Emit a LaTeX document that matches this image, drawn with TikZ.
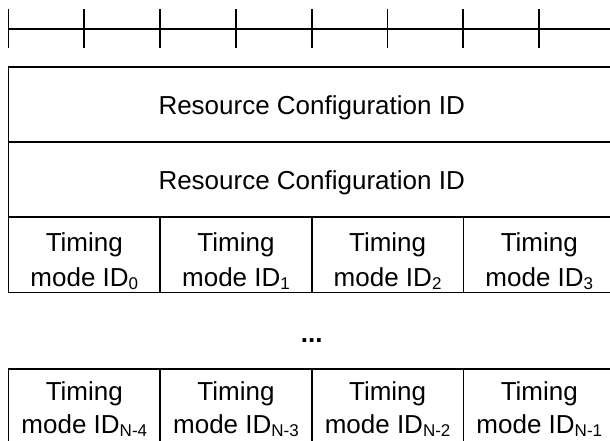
\documentclass[tikz,border=0pt]{standalone}
\usepackage{fontspec}
\setmainfont{Liberation Sans}
\newcommand\idsub[1]{\raisebox{-3.5pt}{\fontsize{17}{17}\selectfont #1}}
\begin{document}
\begin{tikzpicture}[x=1pt,y=-1pt,
  ruler/.style={line width=1.8pt, black},
  wide/.style={draw, line width=1.8pt, minimum width=606.4pt, minimum height=75pt, inner sep=0pt, outer sep=0pt,
    font=\fontsize{26}{30}\selectfont, text height=18.6pt, text depth=0pt},
  cell/.style={draw, line width=1.8pt, minimum width=151.6pt, minimum height=75pt, inner sep=0pt, outer sep=0pt},
  txt/.style={font=\fontsize{26}{30}\selectfont, inner sep=0pt, anchor=base}]
\useasboundingbox (0,0) rectangle (610,441);
\clip (0,0) rectangle (610,441);
% ruler
\draw[ruler] (8.5,29) -- (614.9,29);
\foreach \k in {0,...,8}{
  \draw[ruler] ({8.5+75.8*\k},9.3) -- ({8.5+75.8*\k},48.3);
}
% wide rows
\node[wide] (r1) at (311.7,104.8) {Resource Configuration ID};
\node[wide] (r2) at (311.7,179.8) {Resource Configuration ID};
% first timing row
\foreach \i/\s/\x in {0/0/84.3, 1/1/236.0, 2/2/387.6, 3/3/539.3}{
  \node[cell] (c\i) at (\x,254.9) {};
  \node[txt] (c\i a) at ([yshift=-34pt]c\i.north) {Timing};
  \node[txt] (c\i b) at ([yshift=-69pt]c\i.north) {mode ID\idsub{\s}};
}
% dots
\node[txt] (dots) at (311.7,342.5) {\textbf{...}};
% last timing row
\foreach \i/\s/\x in {0/N-4/84.3, 1/N-3/236.0, 2/N-2/387.6, 3/N-1/539.3}{
  \node[cell] (d\i) at (\x,406.5) {};
  \node[txt] (d\i a) at ([yshift=-31pt]d\i.north) {Timing};
  \node[txt] (d\i b) at ([yshift=-64pt]d\i.north) {mode ID\idsub{\s}};
}
\end{tikzpicture}
\end{document}
